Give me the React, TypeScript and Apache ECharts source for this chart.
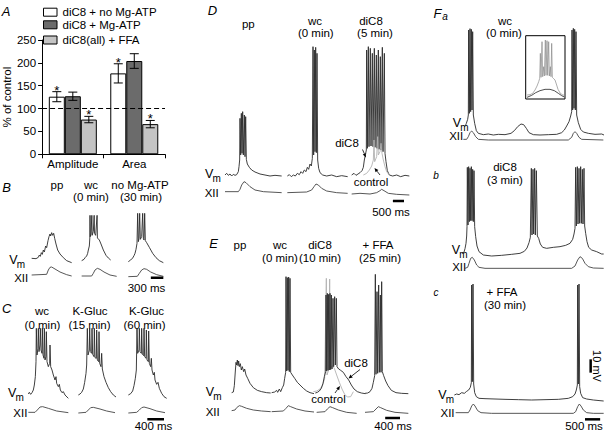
import React, { useEffect, useRef } from "react";
import * as echarts from "echarts";

const FONT = "Liberation Sans, Arial, Helvetica, sans-serif";

// ---------- Panel A (bar chart) ----------
const aCategories = ["Amplitude", "Area"];
const aSeriesNames = ["diC8 + no Mg-ATP", "diC8 + Mg-ATP", "diC8(all) + FFA"];
const aColors = ["#ffffff", "#6b6b6b", "#c4c4c4"];
const aNoMgATP = [126, 177];
const aMgATP = [127, 204];
const aFFA = [76, 66];
const aErrNoMgATP = [11, 21];
const aErrMgATP = [9, 16];
const aErrFFA = [7, 8];
const aStarNoMgATP = [1, 1];
const aStarMgATP = [0, 0];
const aStarFFA = [1, 1];
const aTickValues = [0, 50, 100, 150, 200, 250];
const aReference = 100;

// ---------- Traces: [time (ms), Vm (mV) / XII (a.u.)] ----------
// Panel B
const bPpVm = [[760,-66.25],[864,-66.5],[920,-65.5],[944,-63.75],[968,-64.75],[992,-62],[1016,-63.25],[1040,-60],[1064,-61.5],[1096,-57],[1120,-58.25],[1152,-53],[1176,-50],[1200,-48],[1216,-49.5],[1240,-47],[1264,-49],[1288,-47.5],[1312,-51.25],[1344,-55.5],[1384,-60],[1440,-63],[1520,-65.75],[1600,-68],[1720,-69.5]];
const bPpXii = [[760,-78.75],[1120,-78.25],[1160,-75],[1200,-73],[1240,-72.75],[1320,-74.25],[1440,-76.5],[1600,-78.5],[1720,-79.5]];
const bWcVm = [[1960,-68],[2016,-67],[2048,-65.5],[2080,-64.5],[2104,-62.5],[2120,-60],[2144,-57],[2156,-51],[2160,-34],[2166,-50],[2184,-48],[2204,-34],[2212,-49],[2240,-46],[2260,-34],[2268,-47.5],[2296,-49],[2330,-34],[2338,-51],[2384,-52.5],[2424,-55.5],[2480,-60],[2544,-64],[2600,-66],[2656,-67.5]];
const bWcXii = [[1960,-79.5],[2200,-79.5],[2240,-77.5],[2280,-75],[2336,-73.75],[2400,-74.5],[2496,-76.5],[2640,-78.75],[2800,-79.75]];
const bMgVm = [[3080,-68.75],[3136,-67.5],[3184,-66],[3216,-64.25],[3240,-62.5],[3264,-59.5],[3288,-55],[3304,-32.5],[3320,-53.75],[3336,-51.25],[3352,-32.5],[3368,-52],[3400,-50],[3424,-32.5],[3440,-51.25],[3456,-52.5],[3472,-32.5],[3488,-53],[3520,-54.5],[3584,-58],[3664,-62.5],[3744,-65.75],[3824,-68],[3920,-69.5]];
const bMgXii = [[3080,-80],[3296,-79.75],[3344,-77.5],[3400,-75],[3456,-74],[3520,-74.5],[3616,-76.5],[3760,-78.5],[3920,-79.75]];
const bScaleBar = [[3620,-80.75],[3920,-80.75]];

// Panel C
const cWcVm = [[680,-74.25],[704,-73],[736,-74.5],[768,-73.25],[800,-71.25],[824,-67.5],[848,-61.25],[864,-50],[872,-25],[888,-45],[912,-40],[920,-25],[936,-42.5],[960,-37.5],[968,-25],[984,-41.25],[1008,-43.75],[1016,-25],[1032,-45],[1056,-47.5],[1064,-25],[1080,-48.75],[1104,-46.25],[1112,-27.5],[1128,-50],[1160,-53.75],[1192,-51.25],[1200,-37.5],[1216,-53.75],[1248,-56.25],[1280,-60],[1320,-63.75],[1344,-61.25],[1360,-66.25],[1400,-68.75],[1424,-67],[1448,-71.25],[1488,-73.25],[1520,-72.5],[1560,-75],[1640,-77.5]];
const cWcXii = [[680,-88],[840,-88],[896,-86.25],[960,-84],[1024,-83.75],[1160,-85],[1360,-87],[1640,-88.25]];
const c15Vm = [[1880,-75],[1920,-74.25],[1960,-73],[2000,-70.5],[2032,-65.5],[2064,-58.75],[2080,-52.5],[2096,-25],[2112,-45],[2144,-41.25],[2152,-25],[2168,-42.5],[2200,-43.75],[2208,-25],[2224,-44.5],[2256,-46.25],[2264,-25],[2280,-47],[2312,-47.5],[2320,-26.25],[2336,-48.75],[2368,-50],[2376,-27.5],[2392,-51.25],[2424,-53.75],[2440,-43.75],[2456,-55.5],[2496,-61.25],[2544,-65.5],[2600,-69.5],[2656,-72.5],[2720,-75],[2784,-76.5]];
const c15Xii = [[1880,-88.5],[2064,-88],[2120,-86.25],[2176,-84.5],[2240,-84.25],[2400,-85.5],[2560,-87],[2760,-88.25]];
const c60Vm = [[3080,-75],[3136,-74],[3184,-72],[3216,-68],[3248,-62.5],[3272,-56.25],[3288,-25],[3304,-43.75],[3336,-41.25],[3344,-25],[3360,-42.5],[3392,-43.75],[3400,-25],[3416,-44.5],[3448,-45.5],[3456,-25],[3472,-46.25],[3504,-47.5],[3512,-26.25],[3528,-48.75],[3560,-50],[3568,-27],[3584,-51.25],[3616,-53.75],[3632,-47.5],[3648,-56.25],[3680,-60],[3704,-58],[3720,-63.75],[3760,-67],[3792,-65.5],[3824,-70],[3880,-73.75],[3936,-76.25],[4000,-77.5]];
const c60Xii = [[3080,-88.5],[3280,-88],[3344,-86.25],[3400,-84.5],[3456,-84],[3600,-85.25],[3760,-87],[3960,-88.25]];
const cScaleBar = [[3536,-93.25],[3936,-93.25]];

// Panel D
const dPpVm = [[1125,-131.25],[1200,-130],[1275,-131.5],[1350,-130.5],[1425,-132],[1500,-130.75],[1575,-131.5],[1650,-131],[1725,-128.75],[1755,-125],[1785,-120],[1800,-88.75],[1830,-116.25],[1860,-85],[1890,-115],[1920,-83.75],[1950,-116.25],[1995,-86.25],[2025,-117.5],[2055,-87.5],[2085,-119.5],[2130,-123],[2220,-125.5],[2325,-127.5],[2475,-129],[2700,-130.5],[2925,-131.25],[3150,-132],[3375,-131.5],[3675,-132]];
const dPpXii = [[1125,-143.75],[1725,-143.75],[1800,-142],[1875,-138.75],[1980,-136.25],[2070,-137],[2250,-140],[2475,-142.5],[2850,-143.75],[3675,-144.5]];
const dWcVm = [[3930,-132],[4020,-131],[4110,-132.5],[4200,-131.25],[4290,-132],[4380,-130],[4470,-131],[4545,-128.75],[4620,-130],[4695,-127.5],[4770,-128.75],[4830,-125.5],[4890,-127],[4950,-123],[5010,-124.5],[5055,-118.75],[5085,-35],[5115,-116.25],[5145,-37.5],[5175,-113.75],[5205,-35.5],[5235,-114.5],[5265,-40],[5295,-120],[5340,-126.25],[5400,-129.5],[5520,-131.25],[5700,-132],[5925,-131.25],[6150,-132.5],[6375,-131.75],[6645,-132.5]];
const dWcXii = [[3930,-144.5],[4800,-144],[5025,-142.5],[5130,-140],[5220,-138],[5325,-138.75],[5475,-141.25],[5700,-143.25],[6150,-144.5],[6645,-145]];
const dDiC8Vm = [[6825,-131.25],[6930,-130],[7020,-131.5],[7110,-130.5],[7200,-129.5],[7290,-128],[7350,-125.5],[7395,-120],[7440,-116.25],[7485,-112.5],[7500,-37.5],[7530,-111.25],[7575,-35],[7605,-110],[7665,-36.25],[7695,-109.5],[7755,-40],[7785,-110],[7845,-36.25],[7875,-110.5],[7935,-41.25],[7965,-111.25],[8025,-37.5],[8055,-112],[8115,-42.5],[8145,-112.5],[8205,-35.5],[8235,-113.75],[8295,-40],[8325,-115],[8370,-121.25],[8430,-128],[8520,-131.25],[8670,-132],[8850,-131.25],[9030,-132.5],[9225,-131.5],[9420,-132]];
const dControlVm = [[7350,-131.25],[7500,-130],[7620,-127.5],[7725,-124.5],[7800,-120],[7830,-105],[7860,-121.25],[7950,-117.5],[7995,-102.5],[8025,-116.25],[8100,-113.75],[8145,-107.5],[8190,-115],[8250,-120],[8325,-125],[8400,-128.75],[8520,-131.25]];
const dDiC8Xii = [[6825,-145.5],[7200,-145],[7650,-145.5],[7950,-144.5],[8100,-143],[8175,-142],[8280,-143],[8475,-145],[8850,-145.75],[9420,-146.25]];
const dScaleBar = [[8680,-150.75],[9180,-150.75]];

// Panel E
const ePpVm = [[855,-122],[900,-121.5],[927,-116.75],[954,-105.75],[972,-99.25],[990,-101.25],[1008,-97.5],[1026,-101.75],[1044,-98.25],[1062,-102.5],[1089,-100.25],[1116,-105],[1143,-102.5],[1179,-106.25],[1206,-104.25],[1242,-108.75],[1287,-111.25],[1350,-115],[1440,-118.25],[1548,-120.25],[1665,-121.25],[1800,-122],[1908,-122.25]];
const ePpXii = [[855,-135.5],[945,-135],[990,-133.25],[1062,-131.75],[1125,-132.25],[1260,-133.75],[1440,-135],[1665,-135.75],[1908,-136.25]];
const eWcVm = [[1935,-122],[2016,-121.5],[2070,-120.25],[2097,-121.75],[2142,-119.25],[2178,-121.25],[2223,-118.25],[2259,-116.25],[2286,-111.25],[2313,-106.75],[2322,-35],[2340,-105.75],[2358,-35.75],[2376,-105.25],[2394,-35.25],[2412,-106.25],[2430,-36.25],[2448,-106.75],[2493,-108.75],[2556,-111.25],[2628,-114.25],[2700,-116.25],[2790,-118.75],[2880,-120.75],[2970,-122],[3078,-122.75]];
const eWcXii = [[1935,-136.25],[2250,-135.75],[2322,-133.75],[2385,-131.75],[2448,-132.5],[2610,-134.25],[2835,-135.75],[3078,-136.5]];
const eDiC8Vm = [[3114,-122.25],[3168,-121.75],[3222,-120.75],[3276,-118.75],[3321,-115],[3357,-110],[3393,-106.25],[3402,-48.75],[3420,-105.75],[3438,-47.5],[3456,-105.25],[3474,-48.25],[3492,-105],[3510,-47.5],[3528,-104.75],[3546,-48.75],[3564,-104.25],[3591,-51.25],[3609,-102.5],[3636,-50],[3654,-101.25],[3681,-51.25],[3699,-102.5],[3744,-104.25],[3798,-105.25],[3870,-106.75],[3942,-110],[4014,-112.5],[4086,-116.25],[4158,-119.25],[4248,-121.25],[4356,-122.25],[4464,-122.75]];
const eControlVm = [[3060,-121.25],[3150,-120.75],[3240,-119.25],[3312,-116.25],[3366,-111.25],[3411,-36.25],[3429,-108.75],[3474,-105],[3501,-36.75],[3519,-103.75],[3573,-101.75],[3627,-103.75],[3690,-108.75],[3762,-114.25],[3834,-119.25],[3906,-123.25],[3978,-125.25],[4068,-125],[4140,-121.25]];
const eDiC8Xii = [[3150,-136.75],[3375,-136.25],[3438,-134.25],[3510,-132.5],[3582,-133.25],[3735,-135],[3960,-136.75],[4230,-137.5]];
const eFfaVm = [[4455,-122.5],[4527,-122.25],[4590,-121.25],[4644,-118.75],[4680,-114.25],[4716,-109.25],[4734,-33.25],[4752,-108.25],[4779,-46.25],[4797,-107.5],[4824,-41.25],[4842,-106.75],[4869,-48.75],[4887,-106.75],[4905,-38.75],[4923,-106.25],[4959,-109.25],[5013,-113.25],[5076,-116.75],[5166,-120.25],[5292,-122],[5445,-122.5],[5625,-122.75]];
const eFfaXii = [[4455,-136.75],[4680,-136.25],[4752,-134.25],[4815,-132.5],[4878,-133.25],[5040,-135.25],[5265,-136.75],[5625,-137.5]];
const eScaleBar = [[5000,-141],[5400,-141]];

// Panel F
const faVm = [[1958,-95],[1990,-94.5],[2024,-92.5],[2068,-89.5],[2090,-86.25],[2101,-22.5],[2123,-85],[2145,-21.5],[2167,-83.75],[2189,-22],[2211,-82.5],[2233,-23.75],[2255,-86.25],[2299,-92.5],[2354,-98],[2420,-100],[2585,-101],[2750,-100.5],[2915,-101.25],[3080,-100.75],[3300,-101],[3498,-100],[3608,-98],[3718,-95],[3828,-93],[3916,-93.5],[4004,-96.25],[4092,-99.5],[4235,-101],[4455,-101.25],[4730,-101],[5005,-100.75],[5170,-99.5],[5258,-97.5],[5335,-94.5],[5412,-91.25],[5467,-87],[5500,-83.75],[5511,-22.5],[5533,-82.5],[5555,-21.25],[5577,-81.25],[5599,-22],[5621,-82.5],[5643,-23.75],[5665,-86.25],[5720,-92],[5797,-97],[5885,-99],[6050,-100],[6270,-100.75],[6490,-100.5],[6567,-101.25]];
const faXii = [[1925,-104.5],[2035,-104.5],[2090,-102.5],[2145,-99.5],[2200,-98.25],[2255,-99.5],[2332,-102.5],[2420,-104.5],[2750,-105],[5390,-105],[5500,-103],[5555,-100],[5610,-98.75],[5665,-100],[5742,-103],[5830,-104.5],[6545,-105]];
const faInsetVm = [[4026,-71.25],[4125,-71],[4213,-70],[4290,-67.5],[4356,-64.5],[4411,-61.25],[4444,-58.75],[4466,-40],[4488,-58],[4521,-31.25],[4543,-57.5],[4576,-50],[4598,-57],[4631,-30],[4653,-56.5],[4686,-30.5],[4708,-56.5],[4741,-31.25],[4763,-57],[4796,-50],[4818,-57.5],[4840,-32.5],[4862,-58],[4906,-59],[4950,-60],[4994,-63],[5049,-67],[5126,-70],[5192,-71],[5258,-71.5]];
const faInsetXii = [[4026,-73],[4180,-71.5],[4312,-69.5],[4455,-68],[4620,-67],[4785,-67],[4928,-68],[5060,-70],[5170,-71.75],[5258,-72.75]];
const fbVm = [[1892,-78],[1947,-76.5],[1980,-74],[2013,-70],[2035,-64.5],[2046,-57.5],[2057,-13],[2079,-56.25],[2101,-12.5],[2123,-53.75],[2145,-13.75],[2167,-53],[2189,-12.5],[2211,-53],[2233,-14.5],[2255,-53.75],[2277,-15.5],[2299,-57.5],[2332,-65],[2376,-72],[2442,-76.25],[2585,-78.75],[2860,-79.5],[3190,-79],[3520,-78.25],[3795,-77.5],[3938,-76],[4026,-73.5],[4092,-69.5],[4136,-65.5],[4169,-13.75],[4191,-63.75],[4224,-14.5],[4246,-63],[4279,-13.75],[4301,-63.75],[4334,-15.5],[4367,-64.5],[4411,-66.25],[4466,-70.5],[4543,-73],[4675,-73.75],[4895,-73],[5115,-72.5],[5302,-71.5],[5445,-70],[5533,-67],[5577,-63],[5610,-58.75],[5632,-13],[5654,-57],[5687,-12.5],[5709,-55.5],[5742,-13.75],[5764,-55],[5797,-12.5],[5819,-55],[5852,-14.5],[5874,-55.5],[5907,-13.75],[5929,-57],[5962,-62.5],[6006,-68.75],[6061,-73],[6160,-75],[6325,-76.25],[6490,-78],[6556,-78]];
const fbXii = [[1980,-88.75],[2068,-88],[2112,-85],[2167,-81.25],[2222,-80.5],[2288,-82.5],[2365,-86.25],[2442,-88],[2640,-88.75],[5500,-88.75],[5610,-87],[5698,-82.5],[5775,-80],[5852,-81.25],[5940,-85],[6050,-87.5],[6215,-88.5],[6556,-88.75]];
const fcVm = [[1628,-123.75],[1705,-123],[1782,-123.5],[1870,-122],[1958,-122.5],[2035,-121],[2101,-120],[2156,-118],[2189,-114.5],[2200,-41.25],[2222,-113.75],[2244,-40.5],[2266,-115.5],[2299,-122],[2354,-125],[2442,-126.25],[2640,-126.5],[2970,-126.75],[3300,-127],[3740,-127.25],[4180,-127.5],[4620,-127.25],[5060,-127],[5390,-126.25],[5533,-125],[5610,-123],[5654,-120],[5687,-116.25],[5698,-41.25],[5720,-115.5],[5742,-40.5],[5764,-117.5],[5797,-122.5],[5863,-125.75],[5995,-126.75],[6215,-127.5],[6435,-128],[6556,-128.25]];
const fcXii = [[1672,-137],[2090,-137],[2145,-135],[2200,-132],[2255,-130.5],[2310,-132],[2398,-135.5],[2508,-137],[2860,-137.5],[5555,-137.5],[5632,-136.25],[5698,-132.5],[5753,-130.5],[5808,-132],[5885,-135],[5995,-137],[6215,-137.5],[6556,-137.5]];
const fTimeBar = [[5940,-142],[6440,-142]];
const fVoltBar = [[6127,-97],[6127,-107]];

// ---------- Layout (pixels) ----------
const BAR_W = 16;
const traceGrids = [
  // B, C, D, E, Fa, inset, Fb, Fc
  { left: 0, top: 170, width: 200, height: 130, x: [0, 4800], y: [-97.5, 0] },
  { left: 0, top: 295, width: 200, height: 137, x: [0, 4800], y: [-102.75, 0] },
  { left: 200, top: 0, width: 210, height: 230, x: [0, 9450], y: [-172.5, 0] },
  { left: 200, top: 230, width: 210, height: 202, x: [0, 5670], y: [-151.5, 0] },
  { left: 405, top: 0, width: 199, height: 230, x: [0, 6567], y: [-172.5, 0] },
  { left: 525.7, top: 35.7, width: 39.3, height: 63.3, x: [3982, 5280], y: [-74.25, -26.75], box: true },
  { left: 405, top: 150, width: 199, height: 130, x: [0, 6567], y: [-97.5, 0] },
  { left: 405, top: 230, width: 199, height: 202, x: [0, 6567], y: [-151.5, 0] },
];

const VM = "#2a2a2a";
const XII = "#444444";
const CTRL = "#b2b2b2";

function trace(name: string, g: number, kind: "vm" | "xii", data: number[][], color: string, width = 0.9, z = 3) {
  return {
    type: "line",
    name,
    xAxisIndex: g,
    yAxisIndex: kind === "vm" ? 2 * g - 1 : 2 * g,
    data,
    showSymbol: false,
    symbol: "none",
    silent: true,
    z,
    lineStyle: { color, width },
  };
}

function txt(x: number, y: number, text: string, size = 11.5, opts: any = {}) {
  const align = opts.align || "center";
  return {
    type: "text",
    x,
    y,
    silent: true,
    rotation: opts.rotation || 0,
    style: {
      text,
      fill: "#000",
      fontSize: size,
      fontFamily: FONT,
      fontStyle: opts.italic ? "italic" : "normal",
      textAlign: align,
      align,
      textVerticalAlign: "middle",
      verticalAlign: "middle",
    },
  };
}

function vmLabel(x: number, y: number) {
  return [txt(x, y, "V", 12.5), txt(x + 7.5, y + 4.5, "m", 10)];
}

function arrow(x1: number, y1: number, x2: number, y2: number) {
  const a = Math.atan2(y2 - y1, x2 - x1);
  const L = 4, W = 1.8;
  const bx = x2 - L * Math.cos(a), by = y2 - L * Math.sin(a);
  return {
    type: "group",
    silent: true,
    children: [
      { type: "line", shape: { x1, y1, x2: bx, y2: by }, style: { stroke: "#000", lineWidth: 0.8 } },
      {
        type: "polygon",
        shape: { points: [[x2, y2], [bx - W * Math.sin(a), by + W * Math.cos(a)], [bx + W * Math.sin(a), by - W * Math.cos(a)]] },
        style: { fill: "#000" },
      },
    ],
  };
}

function errSeries(i: number, vals: number[], errs: number[], stars: number[]) {
  return {
    type: "custom",
    xAxisIndex: 0,
    yAxisIndex: 0,
    z: 6,
    silent: true,
    encode: { x: 0, y: 1 },
    data: vals.map((v, k) => [k, v, errs[k], stars[k]]),
    renderItem: (_p: any, api: any) => {
      const k = api.value(0), v = api.value(1), e = api.value(2), s = api.value(3);
      const x = api.coord([k, v])[0] + (i - 1) * BAR_W;
      const yT = api.coord([k, v + e])[1];
      const yB = api.coord([k, v - e])[1];
      const st = { stroke: "#000", lineWidth: 1 };
      const children: any[] = [
        { type: "line", shape: { x1: x, y1: yT, x2: x, y2: yB }, style: st },
        { type: "line", shape: { x1: x - 4.5, y1: yT, x2: x + 4.5, y2: yT }, style: st },
        { type: "line", shape: { x1: x - 4.5, y1: yB, x2: x + 4.5, y2: yB }, style: st },
      ];
      if (s) {
        children.push({
          type: "text",
          x,
          y: yT - 1.5,
          style: { text: "*", fill: "#000", fontSize: 13, fontFamily: FONT, textAlign: "center", align: "center", textVerticalAlign: "middle", verticalAlign: "middle" },
        });
      }
      return { type: "group", children };
    },
  };
}

export default function App() {
  const ref = useRef<HTMLDivElement>(null);
  useEffect(() => {
    if (!ref.current) return;
    document.body.style.margin = "0";
    const chart = echarts.init(ref.current, undefined, { renderer: "svg" });

    const grids: any[] = [{ left: 37, top: 40, width: 128, height: 114.3, containLabel: false }];
    const xAxes: any[] = [
      {
        gridIndex: 0,
        type: "category",
        data: aCategories,
        axisLine: { lineStyle: { color: "#000", width: 1 } },
        axisTick: { show: true, length: 4, lineStyle: { color: "#000" } },
        axisLabel: { color: "#000", fontSize: 11.5, fontFamily: FONT, margin: 4, interval: 0 },
      },
    ];
    const yAxes: any[] = [
      {
        gridIndex: 0,
        type: "value",
        min: aTickValues[0],
        max: aTickValues[aTickValues.length - 1],
        interval: aTickValues[1] - aTickValues[0],
        name: "% of control",
        nameLocation: "middle",
        nameGap: 26,
        nameTextStyle: { color: "#000", fontSize: 11.5, fontFamily: FONT },
        axisLine: { show: true, lineStyle: { color: "#000", width: 1 } },
        axisTick: { show: true, length: 4, lineStyle: { color: "#000" } },
        axisLabel: { color: "#000", fontSize: 11.5, fontFamily: FONT, margin: 6 },
        splitLine: { show: false },
      },
    ];
    traceGrids.forEach((g, idx) => {
      const gi = idx + 1;
      grids.push({
        left: g.left,
        top: g.top,
        width: g.width,
        height: g.height,
        show: !!g.box,
        borderColor: "#000",
        borderWidth: 1,
        backgroundColor: "transparent",
      });
      xAxes.push({ gridIndex: gi, type: "value", name: "ms", min: g.x[0], max: g.x[1], show: false });
      yAxes.push({ gridIndex: gi, type: "value", name: "Vm (mV)", min: g.y[0], max: g.y[1], show: false });
      yAxes.push({ gridIndex: gi, type: "value", name: "XII (a.u.)", min: g.y[0], max: g.y[1], show: false });
    });

    const barSeries = [aNoMgATP, aMgATP, aFFA].map((d, i) => ({
      type: "bar",
      name: aSeriesNames[i],
      xAxisIndex: 0,
      yAxisIndex: 0,
      data: d,
      barWidth: BAR_W,
      barGap: "0%",
      z: 3,
      silent: true,
      itemStyle: { color: aColors[i], borderColor: "#000", borderWidth: 1 },
    }));

    const series: any[] = [
      {
        type: "line",
        xAxisIndex: 0,
        yAxisIndex: 0,
        data: [],
        z: 1,
        silent: true,
        markLine: {
          silent: true,
          symbol: ["none", "none"],
          label: { show: false },
          lineStyle: { color: "#000", width: 1, type: [5, 3] },
          data: [{ yAxis: aReference }],
        },
      },
      ...barSeries,
      errSeries(0, aNoMgATP, aErrNoMgATP, aStarNoMgATP),
      errSeries(1, aMgATP, aErrMgATP, aStarMgATP),
      errSeries(2, aFFA, aErrFFA, aStarFFA),
      // B
      trace("B pp Vm", 1, "vm", bPpVm, VM),
      trace("B pp XII", 1, "xii", bPpXii, XII),
      trace("B wc Vm", 1, "vm", bWcVm, VM),
      trace("B wc XII", 1, "xii", bWcXii, XII),
      trace("B noMgATP Vm", 1, "vm", bMgVm, VM),
      trace("B noMgATP XII", 1, "xii", bMgXii, XII),
      trace("B 300 ms", 1, "xii", bScaleBar, "#000", 2.5),
      // C
      trace("C wc Vm", 2, "vm", cWcVm, VM),
      trace("C wc XII", 2, "xii", cWcXii, XII),
      trace("C 15 Vm", 2, "vm", c15Vm, VM),
      trace("C 15 XII", 2, "xii", c15Xii, XII),
      trace("C 60 Vm", 2, "vm", c60Vm, VM),
      trace("C 60 XII", 2, "xii", c60Xii, XII),
      trace("C 400 ms", 2, "xii", cScaleBar, "#000", 2.5),
      // D
      trace("D pp Vm", 3, "vm", dPpVm, VM),
      trace("D pp XII", 3, "xii", dPpXii, XII),
      trace("D wc Vm", 3, "vm", dWcVm, VM),
      trace("D wc XII", 3, "xii", dWcXii, XII),
      trace("D diC8 Vm", 3, "vm", dDiC8Vm, VM),
      trace("D control Vm", 3, "vm", dControlVm, CTRL, 0.9, 4),
      trace("D diC8 XII", 3, "xii", dDiC8Xii, XII),
      trace("D 500 ms", 3, "xii", dScaleBar, "#000", 2.5),
      // E
      trace("E pp Vm", 4, "vm", ePpVm, VM),
      trace("E pp XII", 4, "xii", ePpXii, XII),
      trace("E wc Vm", 4, "vm", eWcVm, VM),
      trace("E wc XII", 4, "xii", eWcXii, XII),
      trace("E control Vm", 4, "vm", eControlVm, CTRL, 0.9, 2),
      trace("E diC8 Vm", 4, "vm", eDiC8Vm, VM),
      trace("E diC8 XII", 4, "xii", eDiC8Xii, XII),
      trace("E FFA Vm", 4, "vm", eFfaVm, VM),
      trace("E FFA XII", 4, "xii", eFfaXii, XII),
      trace("E 400 ms", 4, "xii", eScaleBar, "#000", 2.5),
      // F
      trace("Fa Vm", 5, "vm", faVm, VM),
      trace("Fa XII", 5, "xii", faXii, XII),
      trace("Fa inset Vm", 6, "vm", faInsetVm, "#8a8a8a", 0.7),
      trace("Fa inset XII", 6, "xii", faInsetXii, "#222", 0.8),
      trace("Fb Vm", 7, "vm", fbVm, VM),
      trace("Fb XII", 7, "xii", fbXii, XII),
      trace("Fc Vm", 8, "vm", fcVm, VM),
      trace("Fc XII", 8, "xii", fcXii, XII),
      trace("F 500 ms", 8, "xii", fTimeBar, "#000", 2.5),
      trace("F 10 mV", 8, "vm", fVoltBar, "#000", 2.5),
    ];

    const legendRows = [12.2, 24.8, 40];
    const legend: any[] = [];
    aSeriesNames.forEach((n, i) => {
      legend.push({
        type: "rect",
        silent: true,
        shape: { x: 43.5, y: legendRows[i] - 4, width: 13.5, height: 8 },
        style: { fill: aColors[i], stroke: "#000", lineWidth: 1 },
      });
      legend.push(txt(62.5, legendRows[i], n, 11.5, { align: "left" }));
    });

    const graphic: any[] = [
      ...legend,
      // panel letters
      txt(6, 11, "A", 13, { italic: true }),
      txt(6.7, 187, "B", 13, { italic: true }),
      txt(6.7, 308.5, "C", 13, { italic: true }),
      txt(212.5, 10, "D", 13, { italic: true }),
      txt(213.5, 243.5, "E", 13, { italic: true }),
      txt(437.5, 13.5, "F", 13, { italic: true }),
      txt(445, 16, "a", 10, { italic: true }),
      txt(436, 175, "b", 10, { italic: true }),
      txt(436, 292.5, "c", 10, { italic: true }),
      // B titles
      txt(57, 185, "pp"),
      txt(91, 185, "wc"),
      txt(91, 197, "(0 min)"),
      txt(140, 185, "no Mg-ATP"),
      txt(141, 197, "(30 min)"),
      ...vmLabel(13.3, 259.5),
      txt(21.2, 277.7, "XII"),
      txt(146.5, 287.5, "300 ms"),
      // C titles
      txt(42, 311, "wc"),
      txt(42.5, 325, "(0 min)"),
      txt(90, 311, "K-Gluc"),
      txt(89.5, 325, "(15 min)"),
      txt(146.5, 311, "K-Gluc"),
      txt(144.5, 325, "(60 min)"),
      ...vmLabel(12.2, 393.3),
      txt(20.3, 412.5, "XII"),
      txt(153.5, 425.5, "400 ms"),
      // D titles
      txt(248.3, 24, "pp"),
      txt(315, 21, "wc"),
      txt(315.8, 33.3, "(0 min)"),
      txt(371, 21, "diC8"),
      txt(375, 33.3, "(5 min)"),
      ...vmLabel(209.2, 174),
      txt(211.7, 192.5, "XII"),
      txt(347, 143, "diC8"),
      arrow(362.5, 149.5, 366, 157.5),
      txt(371, 182, "control"),
      arrow(380, 175, 374.5, 168),
      txt(391, 211.5, "500 ms"),
      // E titles
      txt(240, 245, "pp"),
      txt(280, 245, "wc"),
      txt(280, 258, "(0 min)"),
      txt(320, 245, "diC8"),
      txt(320, 258, "(10 min)"),
      txt(378, 245, "+ FFA"),
      txt(380, 258, "(25 min)"),
      ...vmLabel(210, 392),
      txt(212.7, 411.7, "XII"),
      txt(356, 363, "diC8"),
      arrow(360, 369.5, 348.5, 378.5),
      txt(328.5, 398.5, "control"),
      arrow(335, 393, 340, 386),
      txt(393, 425.5, "400 ms"),
      // F titles
      txt(505, 21, "wc"),
      txt(504, 32.5, "(0 min)"),
      ...vmLabel(457, 123.3),
      txt(456.2, 136.3, "XII"),
      txt(505, 166.7, "diC8"),
      txt(505, 180, "(3 min)"),
      ...vmLabel(455.8, 249.8),
      txt(459.2, 267, "XII"),
      txt(502, 292, "+ FFA"),
      txt(505, 305, "(30 min)"),
      ...vmLabel(442.5, 395),
      txt(447.5, 412.8, "XII"),
      txt(597, 366, "10 mV", 11, { rotation: -Math.PI / 2 }),
      txt(584, 425.5, "500 ms"),
    ];

    chart.setOption({
      animation: false,
      backgroundColor: "#ffffff",
      textStyle: { fontFamily: FONT },
      grid: grids,
      xAxis: xAxes,
      yAxis: yAxes,
      series,
      graphic,
    });
    return () => chart.dispose();
  }, []);
  return <div ref={ref} style={{ width: 604, height: 432 }} />;
}
